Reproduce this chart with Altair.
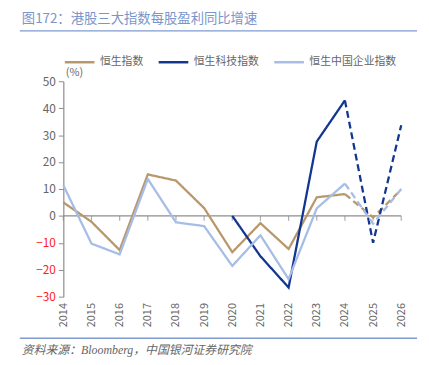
import altair as alt
import pandas as pd

years = [str(y) for y in range(2014, 2027)]
series_names = ["恒生指数", "恒生科技指数", "恒生中国企业指数"]
hsi = [5.0, -2.2, -12.7, 15.4, 13.1, 2.9, -13.5, -2.7, -12.3, 6.9, 8.1, -0.6, 9.8]
hstech = [None, None, None, None, None, None, 0.0, -15.0, -26.6, 27.6, 42.9, -10.0, 33.7]
hscei = [11.4, -10.3, -14.3, 13.7, -2.4, -3.8, -18.6, -7.2, -23.5, 2.8, 12.0, -2.9, 10.0]
y_ticks = [-30, -20, -10, 0, 10, 20, 30, 40, 50]
forecast_start = "2024"
colors = ["#B8976B", "#13368F", "#A6BDE6"]

rows = []
for name, vals in zip(series_names, [hsi, hstech, hscei]):
    for y, v in zip(years, vals):
        if v is None:
            continue
        if int(y) <= int(forecast_start):
            rows.append({"year": y, "value": v, "series": name, "part": "actual"})
        if int(y) >= int(forecast_start):
            rows.append({"year": y, "value": v, "series": name, "part": "forecast"})
df = pd.DataFrame(rows)

W, H = 342, 218
gray = "#666666"
font = "Noto Sans CJK SC"

xscale = alt.Scale(type="point", padding=0, domain=years)
yscale = alt.Scale(domain=[-30, 50])

x_axis = alt.Axis(title=None, labelAngle=270, labelAlign="right", labelBaseline="middle",
                  labelPadding=6, domain=False, ticks=False, labelColor=gray,
                  labelFontSize=11, labelFont=font, labelOverlap=False)
y_axis = alt.Axis(values=y_ticks, grid=False, title="(%)",
                  titleAngle=0, titleAlign="left", titleBaseline="bottom",
                  titleX=2, titleY=-4, titleFontWeight="normal", titleFontSize=11,
                  titleColor=gray, titleFont=font, labelOverlap=False,
                  labelColor={"expr": "datum.value < 0 ? '#FF2020' : '#666666'"},
                  labelFontSize=12, labelFont=font, labelPadding=3,
                  domainColor="#8C8C8C", tickColor="#8C8C8C", tickSize=5,
                  domainWidth=1.2)

lines = alt.Chart(df).mark_line(strokeWidth=2.3).encode(
    x=alt.X("year:O", scale=xscale, axis=x_axis),
    y=alt.Y("value:Q", scale=yscale, axis=y_axis),
    color=alt.Color("series:N", scale=alt.Scale(domain=series_names, range=colors),
                    legend=alt.Legend(title=None, orient="none", direction="horizontal",
                                      legendX=0, legendY=-36, symbolType="stroke",
                                      symbolSize=900, symbolStrokeWidth=2.5,
                                      labelFontSize=11, labelColor=gray, labelFont=font,
                                      columnPadding=10, labelOffset=4)),
    strokeDash=alt.StrokeDash("part:N", scale=alt.Scale(domain=["actual", "forecast"],
                                                          range=[[1, 0], [7, 4]]), legend=None),
    detail="series:N",
)

zero = alt.Chart(pd.DataFrame({"v": [0]})).mark_rule(color="#8C8C8C", strokeWidth=1.2).encode(
    y=alt.Y("v:Q", scale=yscale, axis=y_axis))

ticks = alt.Chart(pd.DataFrame({"year": years, "v": [0] * len(years)})).mark_tick(
    orient="vertical", size=5, yOffset=2.5, color="#8C8C8C", thickness=1.2).encode(
    x=alt.X("year:O", scale=xscale, axis=x_axis), y=alt.Y("v:Q", scale=yscale, axis=y_axis))

deco = pd.DataFrame({"a": [0]})
title = alt.Chart(deco).mark_text(text="图172：港股三大指数每股盈利同比增速", align="left",
                                  baseline="middle", fontSize=13.5, color="#7A95CC", font=font).encode(
    x=alt.value(-42), y=alt.value(-63))
topline = alt.Chart(deco).mark_rule(color="#7F9BD0", strokeWidth=1.5).encode(
    x=alt.value(-44), x2=alt.value(358), y=alt.value(-51))
botline = alt.Chart(deco).mark_rule(color="#7F9BD0", strokeWidth=1.5).encode(
    x=alt.value(-44), x2=alt.value(358), y=alt.value(260))
source = alt.Chart(deco).mark_text(text="资料来源：Bloomberg，中国银河证券研究院", align="left",
                                   baseline="middle", fontSize=12, color=gray, fontStyle="italic",
                                   font="Liberation Serif, Noto Sans CJK SC").encode(
    x=alt.value(-42), y=alt.value(272))

chart = alt.layer(zero, ticks, lines, title, topline, botline, source).properties(
    width=W, height=H,
    autosize=alt.AutoSizeParams(type="none"),
    padding={"left": 56, "top": 72, "right": 20, "bottom": 64},
).configure_view(stroke=None)

chart.save("out.html", embed_options={"renderer": "svg", "actions": False})
